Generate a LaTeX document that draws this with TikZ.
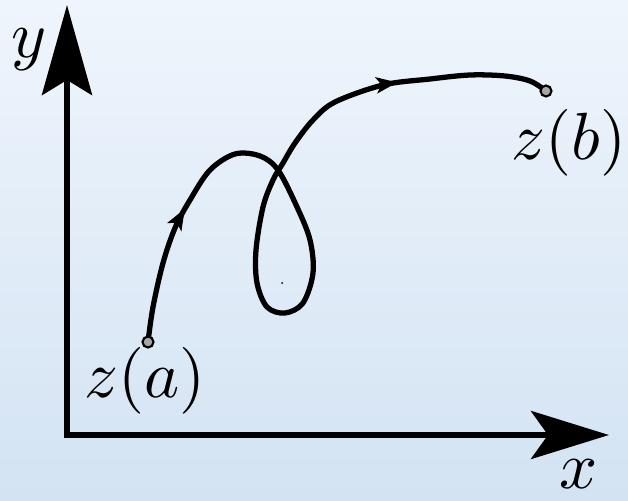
\documentclass[tikz,border=0pt]{standalone}
\usepackage{graphicx}
\usetikzlibrary{arrows.meta,decorations.markings,positioning}
\definecolor{bgtop}{HTML}{EFF5FC}
\definecolor{bgbottom}{HTML}{D3E3F3}
\newcommand{\bigmath}[1]{\scalebox{3.8}{$#1$}}
\tikzset{
    axis/.style={line width=3.4pt, line join=miter},
    contour/.style={
        line width=3pt, line cap=round,
        postaction={decorate},
        decoration={markings,
            mark=at position 0.155 with {\arrow{Stealth[length=0.42cm,width=0.32cm,inset=0.1cm]}},
            mark=at position 0.83 with {\arrow{Stealth[length=0.42cm,width=0.32cm,inset=0.1cm]}}}
    },
    end point/.style={
        circle,draw,line width=1.2pt,
        fill=gray!70,
        minimum size=0.22cm,inner sep=0pt
    },
    end label/.style={inner sep=0pt}
}
\begin{document}
\begin{tikzpicture}[x=0.02cm,y=-0.02cm]
\shade[top color=bgtop,bottom color=bgbottom] (0,0) rectangle (628,500);
\useasboundingbox (0,0) rectangle (628,500);
% axes
\coordinate (origin) at (67,435);
\coordinate (ytip) at (67,5);
\coordinate (xtip) at (609,435);
\draw[axis,{Stealth[length=1.8cm,width=1cm,inset=0.3cm]}-{Stealth[length=1.56cm,width=0.96cm,inset=0.34cm]}] (ytip) -- (origin) -- (xtip);
\node[end label] (ylabel) at (29,50) {\bigmath{y}};
\node[end label] (xlabel) at (579,474) {\bigmath{x}};
% the contour
\coordinate (start) at (148,342);
\coordinate (end) at (546,91);
\draw[contour] plot[smooth,tension=0.55] coordinates {(start) (153,307) (163,263) (175,228) (190,200) (210,170) (235,154) (260,156) (278,170) (297,207) (310,240) (313,273) (303,303) (285,313) (267,307) (257,283) (256,250) (263,207) (273,180) (283,163) (295,143) (313,120) (335,102) (383,85) (430,79) (470,75) (505,76) (530,81) (end)};
\fill (282,283) circle (1);
\node[end point] (a) at (start) {};
\node[end point] (b) at (end) {};
\node[end label] (alabel) at (145,381) {\bigmath{z(a)}};
\node[end label] (blabel) at (569,143) {\bigmath{z(b)}};
\end{tikzpicture}
\end{document}
